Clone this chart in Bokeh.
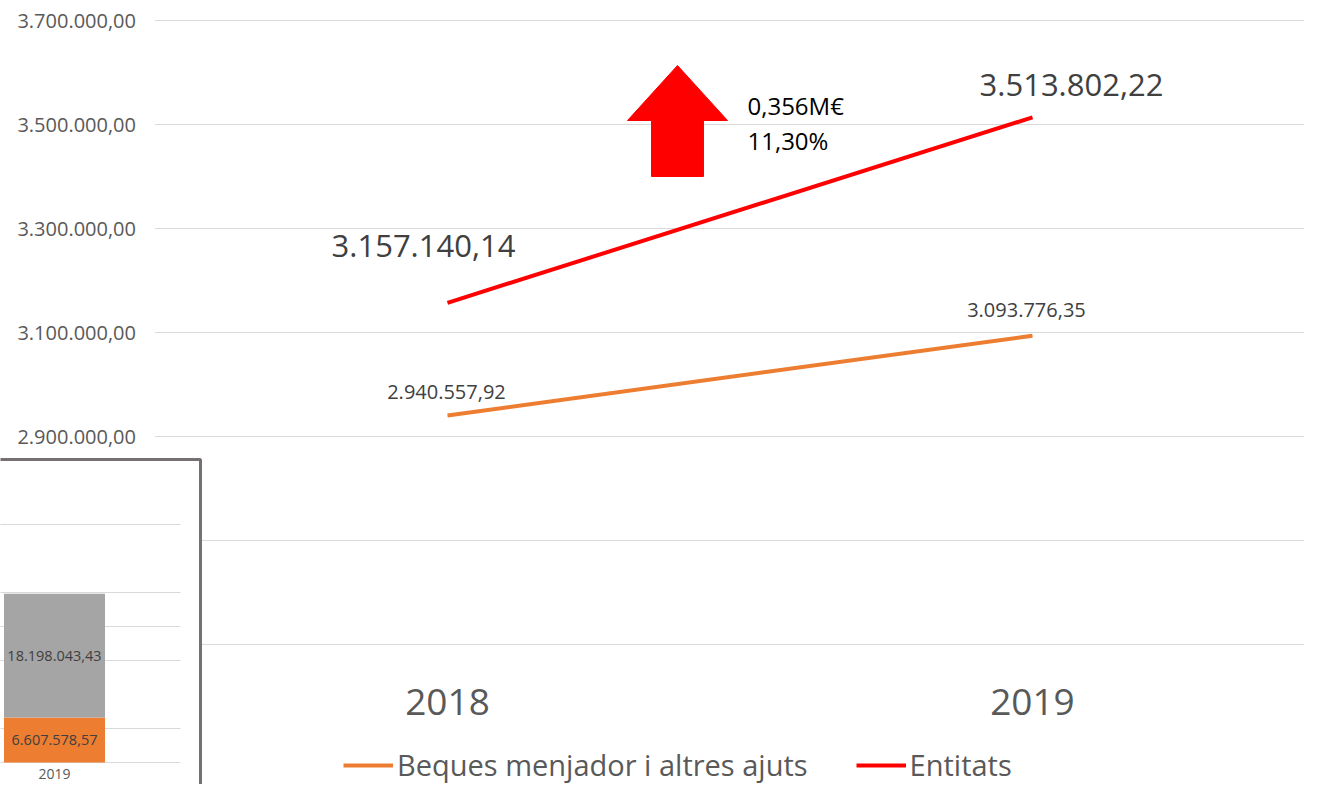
from bokeh.plotting import figure
from bokeh.models import (Range1d, LinearAxis, FixedTicker, CustomJSTickFormatter,
                          Legend, LegendItem, ColumnDataSource)
from bokeh.core.properties import value
from bokeh.embed import file_html
from bokeh.resources import INLINE

# ---------------- data ----------------
years = [2018, 2019]
beques = [2940557.92, 3093776.35]
entitats = [3157140.14, 3513802.22]
series_names = ["Beques menjador i altres ajuts", "Entitats"]
y_ticks = [2900000, 3100000, 3300000, 3500000, 3700000]
grid_values = [2500000, 2700000, 2900000, 3100000, 3300000, 3500000, 3700000]
change_label = "0,356M€"
change_pct = "11,30%"

# inset (pasted stacked bar chart)
inset_category = "2019"
inset_orange = 6607578.57
inset_gray = 18198043.43
inset_grid = [0, 5000000, 15000000, 20000000, 25000000, 35000000]

FONT = "Open Sans"
ORANGE = "#ED7D31"
RED = "#FF0000"
GRAY_TXT = "#595959"
DARK_TXT = "#404040"
GRID = "#D9D9D9"


def fmt(v):
    s = f"{v:,.2f}"
    return s.replace(",", "X").replace(".", ",").replace("X", ".")


W, H = 1304, 784
p = figure(width=W, height=H,
           x_range=Range1d(2017.2359, 2019.4650),
           y_range=Range1d(2230769, 3738462),
           x_axis_type=None, y_axis_type=None,
           output_backend="svg", toolbar_location=None, min_border=0)
p.outline_line_color = None
p.background_fill_color = "white"

# gridlines across the plot area (category band edges)
x_left = years[0] - 0.5
x_right = years[-1] + 0.6
p.segment(x0=[x_left] * len(grid_values), x1=[x_right] * len(grid_values),
          y0=grid_values, y1=grid_values, line_color=GRID, line_width=1)

# axes
yax = LinearAxis(ticker=FixedTicker(ticks=y_ticks),
                 formatter=CustomJSTickFormatter(code="""
                    const s = tick.toFixed(2);
                    let [i, d] = s.split('.');
                    i = i.replace(/\\B(?=(\\d{3})+(?!\\d))/g, '.');
                    return i + ',' + d;
                 """),
                 fixed_location=x_left)
yax.axis_line_color = None
yax.major_tick_line_color = None
yax.minor_tick_line_color = None
yax.major_tick_out = 0
yax.major_tick_in = 0
yax.major_label_standoff = 19
yax.major_label_text_font = FONT
yax.major_label_text_font_size = "20px"
yax.major_label_text_color = GRAY_TXT
p.add_layout(yax, "left")

xax = LinearAxis(ticker=FixedTicker(ticks=years),
                 formatter=CustomJSTickFormatter(code="return tick.toFixed(0);"),
                 fixed_location=grid_values[0])
xax.axis_line_color = None
xax.major_tick_line_color = None
xax.minor_tick_line_color = None
xax.major_tick_out = 0
xax.major_tick_in = 0
xax.major_label_standoff = 45
xax.major_label_text_font = FONT
xax.major_label_text_font_size = "37px"
xax.major_label_text_color = GRAY_TXT
p.add_layout(xax, "below")

# lines
r_beq = p.line(years, beques, line_color=ORANGE, line_width=4)
r_ent = p.line(years, entitats, line_color=RED, line_width=4)

# data labels
ent_src = ColumnDataSource(dict(x=years, y=entitats, t=[fmt(v) for v in entitats],
                                xo=[-24, 39], yo=[-57, -32]))
p.text(x="x", y="y", text="t", x_offset="xo", y_offset="yo", source=ent_src,
       text_font=value(FONT), text_font_size="31px", text_color=DARK_TXT,
       text_align="center", text_baseline="middle")
beq_src = ColumnDataSource(dict(x=years, y=beques, t=[fmt(v) for v in beques],
                                xo=[-1, -6], yo=[-23, -26]))
p.text(x="x", y="y", text="t", x_offset="xo", y_offset="yo", source=beq_src,
       text_font=value(FONT), text_font_size="20px", text_color=DARK_TXT,
       text_align="center", text_baseline="middle")

# increase arrow annotation
ax_c = 2018.3932
head_hw = 0.0855
shaft_hw = 0.0444
y_base, y_neck, y_tip = 3400000, 3507692, 3613462
p.patch(x=[ax_c - shaft_hw, ax_c - shaft_hw, ax_c - head_hw, ax_c, ax_c + head_hw,
           ax_c + shaft_hw, ax_c + shaft_hw],
        y=[y_base, y_neck, y_neck, y_tip, y_neck, y_neck, y_base],
        fill_color=RED, line_color=RED, line_width=1)
p.text(x=[2018.5128, 2018.5128], y=[3536000, 3469000], text=[change_label, change_pct],
       text_font=value(FONT), text_font_size="24px", text_color="#000000",
       text_align="left", text_baseline="middle")

# ---------------- inset (pasted chart fragment) ----------------
p.extra_x_ranges = {"inset": Range1d(-0.5347, 12.3762)}
p.extra_y_ranges = {"inset": Range1d(-3235000, 112059000)}
kw = dict(x_range_name="inset", y_range_name="inset")
p.quad(left=[-1], right=[1.4455], bottom=[-10000000], top=[44560000],
       fill_color="white", line_color="#767171", line_width=3, **kw)
p.segment(x0=[-1] * len(inset_grid), x1=[1.2475] * len(inset_grid),
          y0=inset_grid, y1=inset_grid, line_color=GRID, line_width=1, **kw)
p.vbar(x=[0], width=1, bottom=[0], top=[inset_orange], fill_color=ORANGE,
       line_color=None, **kw)
p.vbar(x=[0], width=1, bottom=[inset_orange], top=[inset_orange + inset_gray],
       fill_color="#A5A5A5", line_color=None, **kw)
p.text(x=[0, 0], y=[inset_orange / 2, inset_orange + inset_gray / 2],
       text=[fmt(inset_orange), fmt(inset_gray)],
       text_font=value(FONT), text_font_size="14.5px", text_color=DARK_TXT,
       text_align="center", text_baseline="middle", **kw)
p.text(x=[0], y=[0], text=[inset_category], y_offset=11,
       text_font=value(FONT), text_font_size="14px", text_color=GRAY_TXT,
       text_align="center", text_baseline="middle", **kw)

# legend
legend = Legend(items=[LegendItem(label=series_names[0], renderers=[r_beq]),
                       LegendItem(label=series_names[1], renderers=[r_ent])],
                orientation="horizontal", location=(343, 0))
legend.label_text_font = FONT
legend.label_text_font_size = "29px"
legend.label_text_color = GRAY_TXT
legend.glyph_width = 50
legend.glyph_height = 20
legend.label_standoff = 4
legend.spacing = 48
legend.padding = 0
legend.margin = 0
legend.border_line_color = None
legend.background_fill_alpha = 0
p.add_layout(legend, "center")

open("out.html", "w").write(file_html(p, INLINE))
